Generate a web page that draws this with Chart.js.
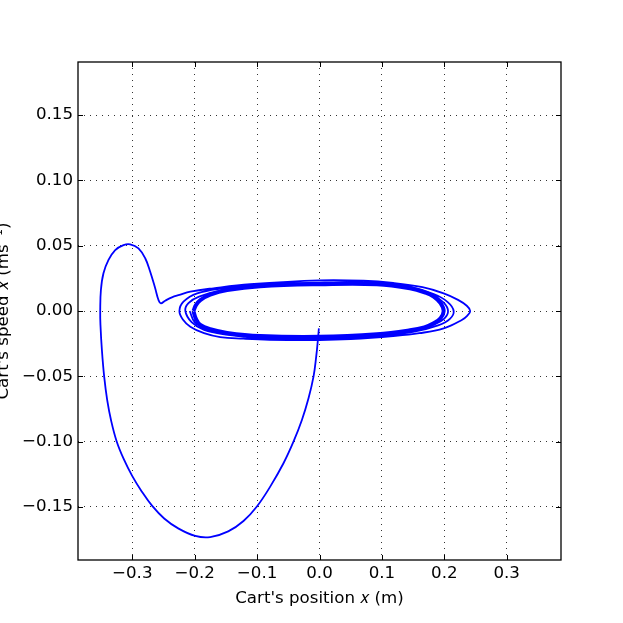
<!DOCTYPE html>
<html>
<head>
<meta charset="utf-8">
<script src="https://cdn.jsdelivr.net/npm/chart.js@4.4.1/dist/chart.umd.min.js"></script>
<style>
  html, body { margin:0; padding:0; background:#fff; }
  canvas { display:block; }
</style>
</head>
<body>
<canvas id="phaseChart" width="623" height="623"></canvas>
<script>
// cart position x (m) and speed (m/s)
// transient: start near the origin, big swing to the left, cusp, then decaying loops
const trajPos = [
  -0.0010, -0.0026, -0.0053, -0.0096, -0.0176, -0.0282, -0.0417, -0.0577, -0.0790, -0.1003,
  -0.1218, -0.1463, -0.1752, -0.1992, -0.2264, -0.2489, -0.2681, -0.2849, -0.3002, -0.3138,
  -0.3250, -0.3338, -0.3402, -0.3450, -0.3487, -0.3510, -0.3514, -0.3503, -0.3462, -0.3381,
  -0.3274, -0.3141, -0.3034, -0.2901, -0.2793, -0.2713, -0.2633, -0.2580, -0.2542, -0.2473,
  -0.2365, -0.2244, -0.207, -0.170, -0.111, 0.000, 0.070, 0.118, 0.165, 0.199,
  0.222, 0.236, 0.2415, 0.237, 0.228, 0.199, 0.160, 0.118, 0.050, 0.000,
  -0.080, -0.122, -0.159, -0.185, -0.207, -0.219, -0.2245,
  -0.218, -0.196, -0.154, -0.100, 0.000, 0.092, 0.145, 0.183, 0.205, 0.215,
  0.209, 0.190, 0.150, 0.092, 0.000, -0.095, -0.150, -0.185, -0.205, -0.215,
  -0.210, -0.193, -0.150, -0.095, 0.000, 0.092, 0.145, 0.180, 0.199, 0.206,
  0.200, 0.185, 0.148, 0.092, 0.000, -0.095, -0.150, -0.180, -0.200, -0.208
];
const trajSpeed = [
  -0.0133, -0.0222, -0.0350, -0.0503, -0.0669, -0.0835, -0.1001, -0.1166, -0.1345, -0.1497,
  -0.1608, -0.1688, -0.1732, -0.1723, -0.1665, -0.1589, -0.1493, -0.1382, -0.1263, -0.1133,
  -0.0999, -0.0842, -0.0682, -0.0505, -0.0299, -0.0107, 0.0000, 0.0161, 0.0289, 0.0391,
  0.0467, 0.0505, 0.0511, 0.0480, 0.0404, 0.0301, 0.0174, 0.0084, 0.0059, 0.0079,
  0.0105, 0.0123, 0.0148, 0.0174, 0.0205, 0.0235, 0.0232, 0.0215, 0.0182, 0.0135,
  0.0085, 0.0040, 0.000, -0.0035, -0.0069, -0.0133, -0.0170, -0.0192, -0.0215, -0.0222,
  -0.0220, -0.0212, -0.0200, -0.0170, -0.0120, -0.0065, 0.000,
  0.0071, 0.0135, 0.0174, 0.0200, 0.0218, 0.0215, 0.0185, 0.0130, 0.0070, 0.000,
  -0.0060, -0.0110, -0.0160, -0.0195, -0.0212, -0.0205, -0.0180, -0.0145, -0.0085, 0.000,
  0.0060, 0.0110, 0.0165, 0.0195, 0.0212, 0.0210, 0.0180, 0.0125, 0.0065, 0.000,
  -0.0058, -0.0100, -0.0155, -0.0185, -0.0205, -0.0198, -0.0172, -0.0140, -0.0085, 0.000
];
// settled limit cycle (many overlapping turns in the picture)
const cyclePos = [
  -0.202, -0.198, -0.191, -0.175, -0.148, -0.095, 0.000, 0.092, 0.145, 0.170,
  0.183, 0.194, 0.199, 0.194, 0.183, 0.168, 0.145, 0.092, 0.000, -0.095,
  -0.148, -0.175, -0.191, -0.198, -0.202
];
const cycleSpeed = [
  0.000, 0.0045, 0.0084, 0.0125, 0.0160, 0.0190, 0.0205, 0.0205, 0.0174, 0.0140,
  0.0110, 0.0060, 0.000, -0.0055, -0.0094, -0.0125, -0.0148, -0.0178, -0.0198, -0.0192,
  -0.0168, -0.0140, -0.0107, -0.0060, 0.000
];
const xTicks = [-0.3, -0.2, -0.1, 0.0, 0.1, 0.2, 0.3];
const yTicks = [-0.15, -0.10, -0.05, 0.00, 0.05, 0.10, 0.15];

const toPoints = (xs, ys) => xs.map((v, i) => ({x: v, y: ys[i]}));
const fmt = (v, d) => v.toFixed(d).replace('-', '\u2212');
const font = {family: "'DejaVu Sans', sans-serif", size: 16.67};

// frame on all four sides + inward tick marks, like the classic matplotlib look
const framePlugin = {
  id: 'frame',
  afterDraw(chart){
    const {ctx, chartArea: a, scales: {x, y}} = chart;
    ctx.save();
    ctx.strokeStyle = '#000';
    ctx.lineWidth = 1;
    ctx.beginPath();
    x.ticks.forEach(t => {
      const px = Math.round(x.getPixelForValue(t.value)) + 0.5;
      ctx.moveTo(px, a.bottom); ctx.lineTo(px, a.bottom - 5);
      ctx.moveTo(px, a.top); ctx.lineTo(px, a.top + 5);
    });
    y.ticks.forEach(t => {
      const py = Math.round(y.getPixelForValue(t.value)) + 0.5;
      ctx.moveTo(a.left, py); ctx.lineTo(a.left + 5, py);
      ctx.moveTo(a.right, py); ctx.lineTo(a.right - 5, py);
    });
    ctx.stroke();
    ctx.lineWidth = 1.3;
    ctx.strokeRect(a.left, a.top, a.right - a.left, a.bottom - a.top);
    ctx.restore();
  }
};

const ctx = document.getElementById('phaseChart').getContext('2d');
new Chart(ctx, {
  type: 'scatter',
  data: {
    datasets: [
      { data: toPoints(trajPos, trajSpeed), showLine: true, borderColor: '#0000ff', borderWidth: 1.8, pointRadius: 0, tension: 0.4, fill: false },
      { data: toPoints(cyclePos, cycleSpeed), showLine: true, borderColor: '#0000ff', borderWidth: 4, pointRadius: 0, tension: 0.4, fill: false }
    ]
  },
  options: {
    responsive: false,
    animation: false,
    layout: { padding: {left: 0, top: 62, right: 62, bottom: 0} },
    plugins: { legend: {display: false}, tooltip: {enabled: false} },
    scales: {
      x: {
        type: 'linear', min: -0.387, max: 0.387,
        afterBuildTicks: s => { s.ticks = xTicks.map(v => ({value: v})); },
        afterFit: s => { s.height = 63; },
        ticks: { color: '#000', font, padding: 4, maxRotation: 0, callback: v => fmt(v, 1) },
        grid: { color: 'rgba(0,0,0,0.8)', lineWidth: 1, drawTicks: false },
        border: { display: false, dash: [1, 5] },
        title: { display: true, text: "Cart's position \uD835\uDC65 (m)", color: '#000', font, padding: {top: 0, bottom: 14} }
      },
      y: {
        type: 'linear', min: -0.1907, max: 0.1907,
        afterBuildTicks: s => { s.ticks = yTicks.map(v => ({value: v})); },
        afterFit: s => { s.width = 78; },
        ticks: { color: '#000', font, padding: 5, callback: v => fmt(v, 2) },
        grid: { color: 'rgba(0,0,0,0.8)', lineWidth: 1, drawTicks: false },
        border: { display: false, dash: [1, 5] },
        title: { display: true, text: "Cart's speed \uD835\uDC65\u0307 (ms\u207B\u00B9)", color: '#000', font, padding: {top: -6, bottom: 0} }
      }
    }
  },
  plugins: [framePlugin]
});
</script>
</body>
</html>
